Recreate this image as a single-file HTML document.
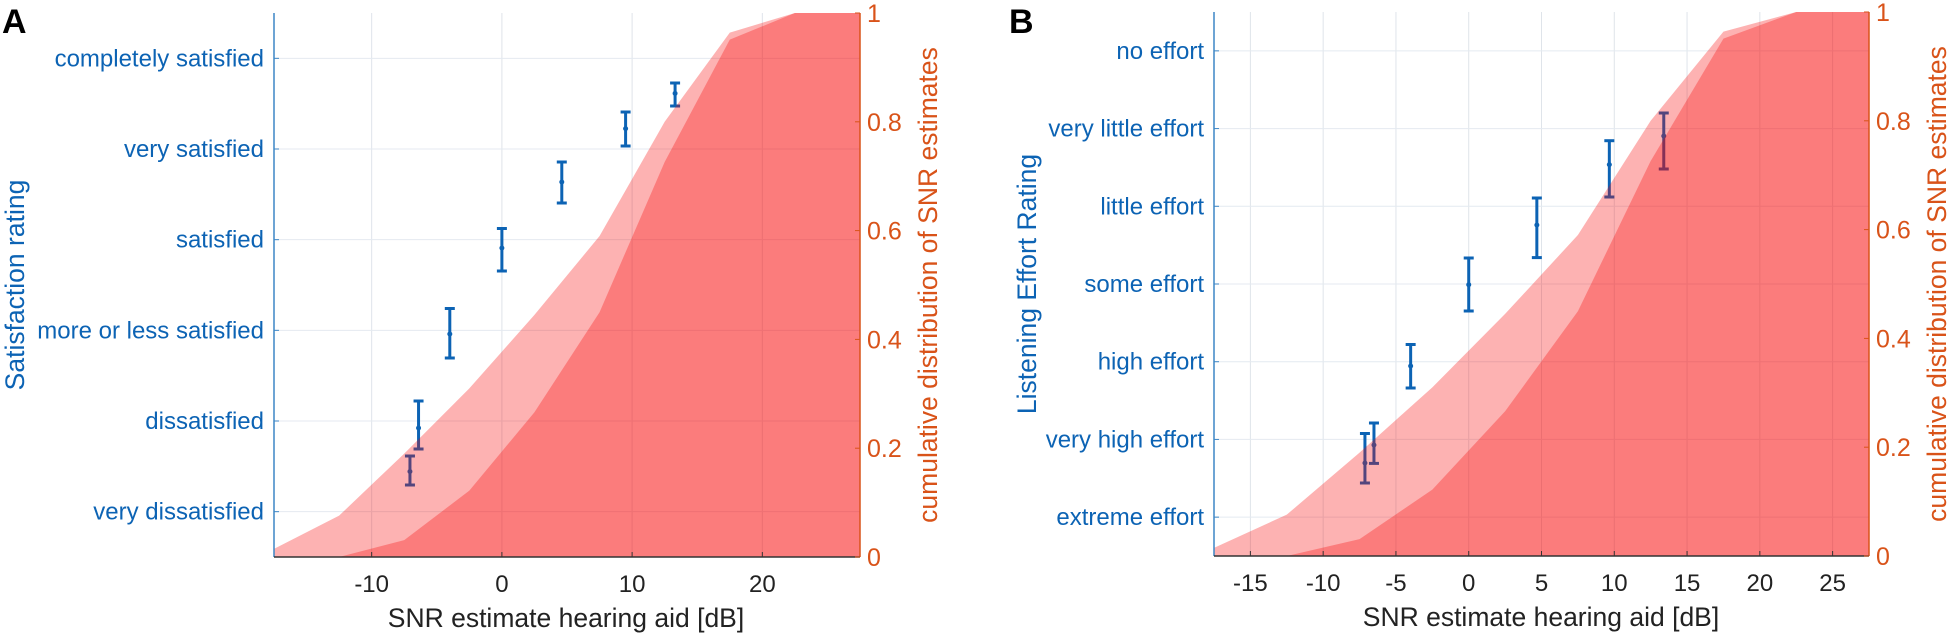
<!DOCTYPE html>
<html><head><meta charset="utf-8"><style>
body{margin:0;background:#fff;}
svg{display:block;font-family:"Liberation Sans",sans-serif;}
</style></head><body>
<svg id="s" width="1950" height="634" xmlns="http://www.w3.org/2000/svg"></svg>
<script>
const S=document.getElementById('s');let h='';
const light=[[-17.5,0.015],[-12.5,0.076],[-7.5,0.19],[-2.5,0.31],[2.5,0.445],[7.5,0.59],[12.5,0.8],[17.5,0.964],[22.5,1],[27.5,1]];
const dark=[[-17.5,0],[-12.5,0],[-7.5,0.031],[-2.5,0.122],[2.5,0.266],[7.5,0.45],[12.5,0.726],[17.5,0.951],[22.5,1],[27.5,1]];
function panel(o){
 const X=v=>o.x0+(v+17.5)*(o.x1-o.x0)/45;
 const Yc=v=>o.yb-v*(o.yb-o.yt);
 const n=o.labels.length;const sp=(o.yb-o.yt)/n;
 const Yl=i=>o.yt+sp*(i+0.5);
 o.xt.forEach(t=>{h+=`<line x1="${X(t)}" y1="${o.yt}" x2="${X(t)}" y2="${o.yb}" stroke="#dfe4ea" stroke-width="1"/>`;});
 o.labels.forEach((l,i)=>{h+=`<line x1="${o.x0}" y1="${Yl(i)}" x2="${o.x1}" y2="${Yl(i)}" stroke="#e4eaf0" stroke-width="1"/>`;});
 o.pts.forEach(p=>{const x=X(p[0]);h+=`<g stroke="#0c63b4" stroke-width="3"><line x1="${x}" y1="${p[2]}" x2="${x}" y2="${p[3]}"/><line x1="${x-5}" y1="${p[2]}" x2="${x+5}" y2="${p[2]}"/><line x1="${x-5}" y1="${p[3]}" x2="${x+5}" y2="${p[3]}"/></g><circle cx="${x}" cy="${p[1]}" r="2.5" fill="#0c63b4"/>`;});
 [light,dark].forEach(d=>{let pts=d.map(p=>X(p[0])+','+Yc(p[1])).join(' ');pts+=` ${X(27.5)},${o.yb} ${X(-17.5)},${o.yb}`;h+=`<polygon points="${pts}" fill="#fa0000" fill-opacity="0.3"/>`;});
 h+=`<line x1="${o.x0}" y1="${o.yt}" x2="${o.x0}" y2="${o.yb}" stroke="#3d86c6" stroke-width="1.5"/>`;
 h+=`<line x1="${o.x1}" y1="${o.yt}" x2="${o.x1}" y2="${o.yb}" stroke="#d95319" stroke-width="1.5"/>`;
 h+=`<line x1="${o.x0}" y1="${o.yb}" x2="${o.x1}" y2="${o.yb}" stroke="#333" stroke-width="1.5"/>`;
 o.xt.forEach(t=>{h+=`<line x1="${X(t)}" y1="${o.yb}" x2="${X(t)}" y2="${o.yb-5}" stroke="#333"/><text x="${X(t)}" y="${o.yb+35}" font-size="24" fill="#222" text-anchor="middle">${t}</text>`;});
 o.labels.forEach((l,i)=>{h+=`<line x1="${o.x0}" y1="${Yl(i)}" x2="${o.x0+5}" y2="${Yl(i)}" stroke="#3d86c6"/><text x="${o.x0-10}" y="${Yl(i)+8}" font-size="24" fill="#0c63b4" text-anchor="end">${l}</text>`;});
 [0,0.2,0.4,0.6,0.8,1].forEach(v=>{h+=`<line x1="${o.x1-5}" y1="${Yc(v)}" x2="${o.x1}" y2="${Yc(v)}" stroke="#d95319"/><text x="${o.x1+7}" y="${Yc(v)+9}" font-size="25" fill="#d95319">${v}</text>`;});
 const cy=(o.yt+o.yb)/2;
 h+=`<text transform="translate(${o.ylx},${cy}) rotate(-90)" font-size="26.5" fill="#0c63b4" text-anchor="middle">${o.ylab}</text>`;
 h+=`<text transform="translate(${o.x1+77},${cy}) rotate(-90)" font-size="26.5" fill="#d95319" text-anchor="middle">cumulative distribution of SNR estimates</text>`;
 h+=`<text x="${o.xlc}" y="${o.yb+70}" font-size="26.5" fill="#222" text-anchor="middle">SNR estimate hearing aid [dB]</text>`;
 h+=`<text x="${o.lx}" y="33" font-size="34" font-weight="bold" fill="#000">${o.L}</text>`;
}
panel({x0:274,x1:860,yt:13,yb:557,xt:[-10,0,10,20],
 labels:['completely satisfied','very satisfied','satisfied','more or less satisfied','dissatisfied','very dissatisfied'],
 pts:[[-7.06,471.5,456,485],[-6.4,428,401,449],[-4,334,308.5,358],[0,248,228.5,271],[4.6,182,162,203],[9.5,128.6,112,146],[13.3,93.4,83,106]],
 ylab:'Satisfaction rating',ylx:24,xlc:566,lx:2,L:'A'});
panel({x0:1214,x1:1869,yt:12,yb:556,xt:[-15,-10,-5,0,5,10,15,20,25],
 labels:['no effort','very little effort','little effort','some effort','high effort','very high effort','extreme effort'],
 pts:[[-7.13,463,433.5,483],[-6.51,445,423,463.4],[-3.99,366,344.5,388],[0,284.7,258,311],[4.68,225,198,257.6],[9.66,164.6,140.7,197],[13.4,136,113,169]],
 ylab:'Listening Effort Rating',ylx:1036,xlc:1541,lx:1009,L:'B'});
S.innerHTML=h;
</script>
</body></html>
